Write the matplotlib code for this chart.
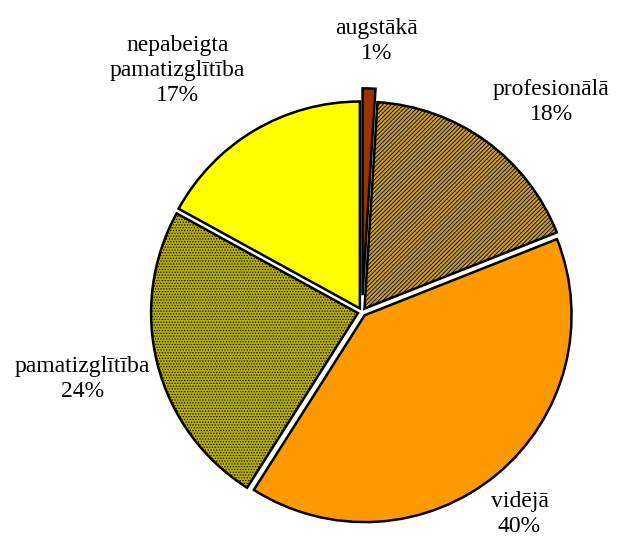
import matplotlib
matplotlib.use("Agg")
import matplotlib.pyplot as plt

# education levels, clockwise from the top
labels = ["augstākā", "profesionālā", "vidējā", "pamatizglītība", "nepabeigta\npamatizglītība"]
shares = [1, 18, 40, 24, 17]
colors = ["#993300", "#C89C38", "#FF9900", "#B8B000", "#FFFF00"]
hatches = [None, "////////", None, "......", None]
explode = [0.08, 0.02, 0.02, 0.02, 0.02]

# where the labels sit (pie radius = 1)
label_pos = [(0.07, 1.29), (0.90, 1.0), (0.75, -0.96), (-1.33, -0.32), (-0.88, 1.15)]

plt.rcParams["font.family"] = "Liberation Serif"
plt.rcParams["hatch.linewidth"] = 0.6

fig = plt.figure(figsize=(6.24, 5.42), dpi=100)
ax = fig.add_axes([0, 0, 1, 1])

r_px = 210.0
cx, cy = 362.0, 312.0
wedges, _ = ax.pie(shares, colors=colors, explode=explode, startangle=90,
                   counterclock=False, radius=0.985,
                   wedgeprops=dict(edgecolor="black", linewidth=1.8))
for w, h in zip(wedges, hatches):
    if h:
        w.set_hatch(h)

for lab, s, (x, y) in zip(labels, shares, label_pos):
    ax.text(x, y, f"{lab}\n{s}%", ha="center", va="center", fontsize=17,
            linespacing=1.25)

ax.set_xlim(-cx / r_px, (624 - cx) / r_px)
ax.set_ylim(-(542 - cy) / r_px, cy / r_px)
ax.set_aspect("equal")
ax.axis("off")

fig.savefig("out.png", dpi=100)
